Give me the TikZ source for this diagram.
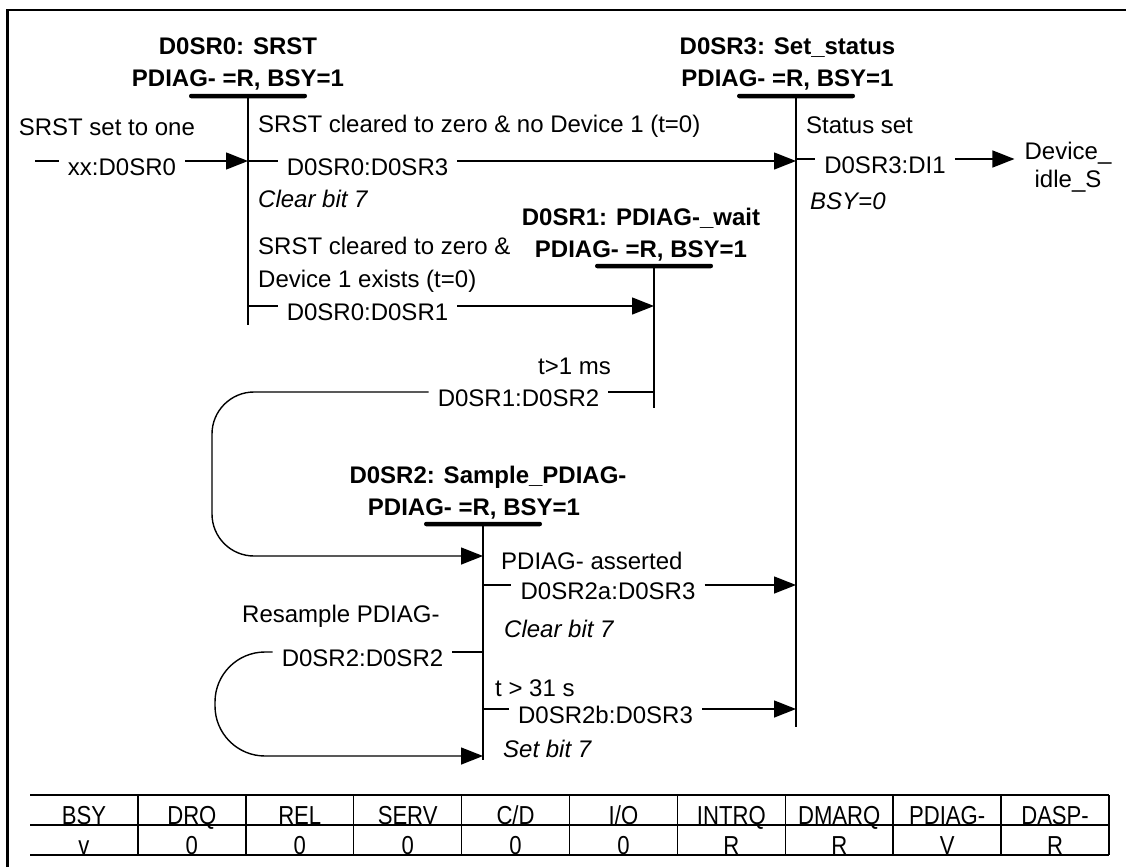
\documentclass[tikz,border=0pt]{standalone}
\usepackage{fontspec}
\setmainfont{Liberation Sans}
\newfontfamily\narrowfont[FakeStretch=0.85]{Liberation Sans}
\usetikzlibrary{arrows.meta}
\begin{document}
\begin{tikzpicture}[x=1pt,y=-1pt,
  font=\fontsize{24}{32}\selectfont,
  conn/.style={line width=1.4pt},
  arr/.style={conn,-{Triangle[length=22pt,width=17pt]}},
  bar/.style={fill=black,rounded corners=2.2pt,minimum width=118pt,minimum height=4.5pt,inner sep=0pt,draw=none},
  title/.style={font=\fontsize{24}{32}\selectfont\bfseries,align=center,inner sep=0pt},
  lbl/.style={anchor=west,inner sep=0pt},
  ilbl/.style={lbl,font=\fontsize{24}{32}\selectfont\itshape},
  trans/.style={text height=28pt,text depth=0pt,inner ysep=0pt,inner xsep=9pt},
  tcell/.style={font=\narrowfont\fontsize{26}{26}\selectfont,anchor=base,inner sep=0pt}]
\useasboundingbox (0,0) rectangle (1126,867);
\fill[white] (0,0) rectangle (1126,867);
% frame
\draw[line width=2.5pt] (7.5,867) -- (7.5,10) -- (1126,10);

% state titles
\node[title] (t0) at (238,64) {D0SR0: SRST\\PDIAG- =R, BSY=1};
\node[title] (t3) at (787.5,64) {D0SR3: Set\_status\\PDIAG- =R, BSY=1};
\node[title] (t1) at (641,235) {D0SR1: PDIAG-\_wait\\PDIAG- =R, BSY=1};
\node[title] (t2) at (488,493) {D0SR2: Sample\_PDIAG-\\\hspace*{-28pt}PDIAG- =R, BSY=1};

% state bars
\node[bar] (b0) at (248,96) {};
\node[bar] (b3) at (796,96) {};
\node[bar] (b1) at (654,266) {};
\node[bar] (b2) at (483,524) {};

% state lines
\draw[conn] (b0.center) -- ++(0,229);
\draw[conn] (b3.center) -- ++(0,631);
\draw[conn] (b1.center) -- ++(0,142);
\draw[conn] (b2.center) -- ++(0,236);

% entry into D0SR0
\node[lbl] (l1) at (18.6,127) {SRST set to one};
\coordinate (s0) at (35,161);
\node[trans] (x0) at (122,161) {xx:D0SR0};
\draw[conn] (s0) -- (x0.west);
\draw[arr] (x0.east) -- (b0.center |- x0.east);

% D0SR0 -> D0SR3
\node[lbl] (l2) at (258,126) {SRST cleared to zero \& no Device 1 (t=0)};
\node[trans] (x03) at (367.5,161) {D0SR0:D0SR3};
\draw[conn] (b0.center |- x03.west) -- (x03.west);
\draw[arr] (x03.east) -- (b3.center |- x03.east);
\node[ilbl] (l3) at (258,199) {Clear bit 7};

% D0SR0 -> D0SR1
\node[lbl] (l4) at (258,246) {SRST cleared to zero \&};
\node[lbl] (l5) at (258,281) {Device 1 exists (t=0)};
\node[trans] (x01) at (367.5,306) {D0SR0:D0SR1};
\draw[conn] (b0.center |- x01.west) -- (x01.west);
\draw[arr] (x01.east) -- (b1.center |- x01.east);

% D0SR3 -> DI1
\node[lbl] (l6) at (806,125) {Status set};
\node[trans] (x3d) at (885,159) {D0SR3:DI1};
\node[align=center,inner ysep=0pt,inner xsep=10pt,font=\fontsize{24}{28}\selectfont] (dev) at (1068,167) {Device\_\\idle\_S};
\draw[conn] (b3.center |- x3d.west) -- (x3d.west);
\draw[arr] (x3d.east) -- (x3d.east -| dev.west);
\node[ilbl] (l7) at (810,201) {BSY=0};

% D0SR1 -> D0SR2
\node[lbl,anchor=east] (l8) at (611,366) {t>1 ms};
\node[trans] (x12) at (518.5,392) {D0SR1:D0SR2};
\coordinate (e12) at (483,556);
\draw[conn] (b1.center |- x12.east) -- (x12.east);
\draw[arr,rounded corners=42pt] (x12.west) -- (212,392) -- (212,556) -- (e12);

% D0SR2 -> D0SR3 (a)
\node[lbl] (l9) at (501,561) {PDIAG- asserted};
\node[trans] (x2a) at (608,585) {D0SR2a:D0SR3};
\draw[conn] (b2.center |- x2a.west) -- (x2a.west);
\draw[arr] (x2a.east) -- (b3.center |- x2a.east);
\node[ilbl] (l10) at (504,629) {Clear bit 7};

% D0SR2 -> D0SR2
\node[lbl] (l11) at (242,616) {Resample PDIAG-};
\node[trans] (x22) at (362.5,652) {D0SR2:D0SR2};
\coordinate (e22) at (483,756);
\draw[conn] (b2.center |- x22.east) -- (x22.east);
\draw[arr,rounded corners=50pt] (x22.west) -- (215,652) -- (215,756) -- (e22);

% D0SR2 -> D0SR3 (b)
\node[lbl] (l12) at (495,688) {t > 31 s};
\node[trans] (x2b) at (605.5,709) {D0SR2b:D0SR3};
\draw[conn] (b2.center |- x2b.west) -- (x2b.west);
\draw[arr] (x2b.east) -- (b3.center |- x2b.east);
\node[ilbl] (l13) at (503,749) {Set bit 7};

% table
\foreach \yy in {795,825,855} \draw[line width=2.2pt] (30,\yy) -- (1109,\yy);
\foreach \k in {1,...,10} \draw[line width=1.5pt] ({30+107.9*\k},795) -- ({30+107.9*\k},855);
\foreach \h/\v [count=\i] in {BSY/v,DRQ/0,REL/0,SERV/0,{C/D}/0,{I/O}/0,INTRQ/R,DMARQ/R,PDIAG-/V,DASP-/R}{
  \node[tcell] (h\i) at ({30+107.9*(\i-0.5)},824.5) {\h};
  \node[tcell] (v\i) at ({30+107.9*(\i-0.5)},854.5) {\v};
}
\end{tikzpicture}
\end{document}
